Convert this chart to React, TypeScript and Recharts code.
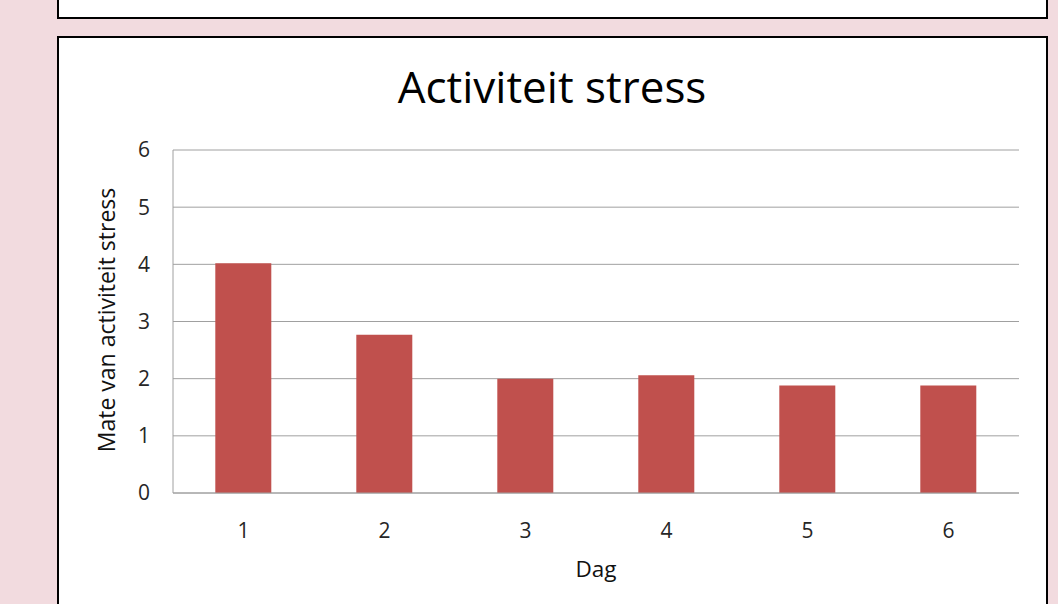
import React from "react";
import { BarChart, Bar, XAxis, YAxis, CartesianGrid } from "recharts";

const days = ["1", "2", "3", "4", "5", "6"];
const stressLevels = [4.02, 2.77, 2.0, 2.06, 1.88, 1.88];
const yTicks = [0, 1, 2, 3, 4, 5, 6];

const data = days.map((dag, i) => ({ dag, stress: stressLevels[i] }));

const FONT = '"Open Sans", sans-serif';
const TEXT = "#262626";
const GRID = "#a0a0a0";

export default function App() {
  return (
    <div
      style={{
        position: "absolute",
        left: 0,
        top: 0,
        width: 1058,
        height: 604,
        overflow: "hidden",
        background: "#F2DBDF",
        fontFamily: FONT,
      }}
    >
      {/* bottom edge of the previous chart box */}
      <div
        style={{
          position: "absolute",
          left: 57,
          top: -10,
          width: 991,
          height: 29,
          boxSizing: "border-box",
          background: "#fff",
          border: "2px solid #000",
        }}
      />
      <div
        style={{
          position: "absolute",
          left: 57,
          top: 36,
          width: 991,
          height: 600,
          boxSizing: "border-box",
          background: "#fff",
          border: "2px solid #000",
        }}
      />
      <svg style={{ position: "absolute", left: 0, top: 0 }} width={1058} height={120}>
        <text x={552} y={103} textAnchor="middle" fontSize={44} fill="#000" fontFamily={FONT}>
          Activiteit stress
        </text>
      </svg>
      <div style={{ position: "absolute", left: 0, top: 0 }}>
        <BarChart
          width={1058}
          height={604}
          data={data}
          margin={{ top: 150, right: 39, bottom: 31, left: 93 }}
          barCategoryGap="30%"
        >
          <CartesianGrid vertical={false} stroke={GRID} />
          <XAxis
            dataKey="dag"
            height={80}
            axisLine={{ stroke: GRID }}
            tickLine={false}
            tickSize={6}
            tickMargin={24}
            tick={{ fill: TEXT, fontSize: 21, fontFamily: FONT }}
            label={{
              content: (props: any) => {
                const vb = props.viewBox;
                return (
                  <text
                    x={vb.x + vb.width / 2}
                    y={vb.y + 84}
                    textAnchor="middle"
                    fontSize={22.5}
                    fill="#111"
                    fontFamily={FONT}
                  >
                    Dag
                  </text>
                );
              },
            }}
          />
          <YAxis
            width={80}
            domain={[0, 6]}
            ticks={yTicks}
            interval={0}
            axisLine={{ stroke: GRID }}
            tickLine={false}
            tickSize={6}
            tickMargin={17}
            tick={{ fill: TEXT, fontSize: 21, fontFamily: FONT }}
            label={{
              content: (props: any) => {
                const vb = props.viewBox;
                const x = vb.x + 22;
                const y = vb.y + vb.height / 2 - 1.5;
                return (
                  <text
                    x={x}
                    y={y}
                    transform={`rotate(-90 ${x} ${y})`}
                    textAnchor="middle"
                    fontSize={23}
                    fill="#111"
                    fontFamily={FONT}
                  >
                    Mate van activiteit stress
                  </text>
                );
              },
            }}
          />
          <Bar dataKey="stress" fill="#C0504D" isAnimationActive={false} />
        </BarChart>
      </div>
    </div>
  );
}
